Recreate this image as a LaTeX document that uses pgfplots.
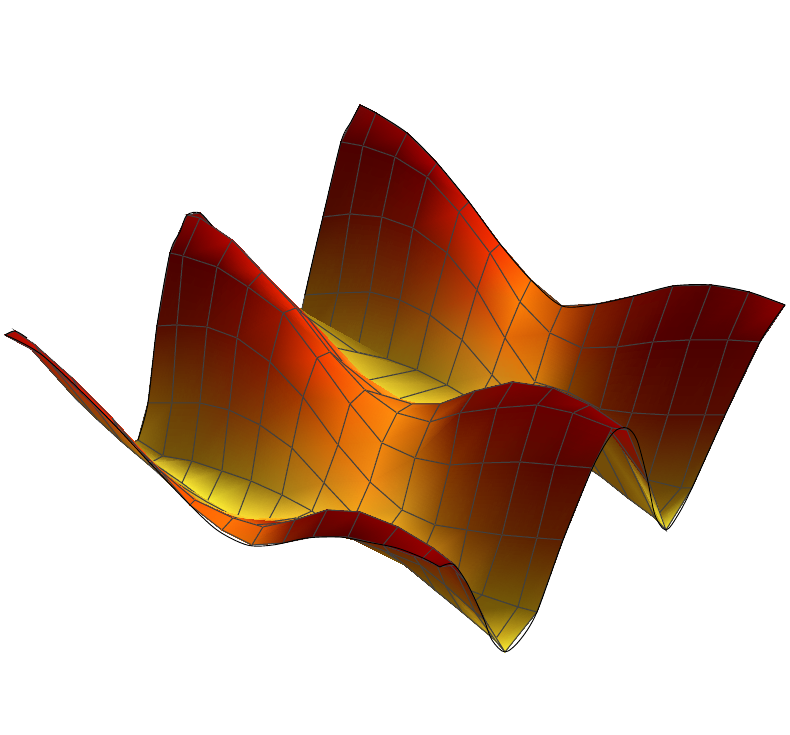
\documentclass[border=0pt]{standalone}
\usepackage{pgfplots}
\pgfplotsset{compat=1.18}
\pgfplotstableread{
x y z c
360 105 0 rgb=.45,.02,.02
376 113 1 rgb=.5,0,0
407 133 2 rgb=.55,0,0
437 163 3 rgb=.68,0,0
469 202 4 rgb=.85,.08,0
500 244 5 rgb=1,.2,0
531 280 6 rgb=1,.45,.02
562 306 7 rgb=.75,.3,.01
597 304 8 rgb=.5,.12,0
634 296 9 rgb=.42,.04,0
673 286 10 rgb=.38,.01,0
711 285 11 rgb=.33,0,0
749 292 12 rgb=.4,0,0
785 305 13 rgb=.55,0,0
341 142 1 rgb=.3,0,0
363 146 2 rgb=.3,0,0
395 157 3 rgb=.32,0,0
427 177 4 rgb=.4,0,0
459 212 5 rgb=.75,.08,0
490 253 6 rgb=.95,.2,0
520 302 7 rgb=1,.5,.03
550 333 8 rgb=.8,.35,.02
582 348 9 rgb=.5,.15,0
617 347 10 rgb=.38,.06,0
653 342 11 rgb=.32,0,0
690 340 12 rgb=.3,0,0
728 340 13 rgb=.3,0,0
760 342 14 rgb=.33,0,0
323 217 2 rgb=.3,.05,0
350 214 3 rgb=.33,.05,0
382 217 4 rgb=.36,.05,0
413 228 5 rgb=.4,.05,0
447 253 6 rgb=.55,.12,0
477 290 7 rgb=.75,.22,.02
505 338 8 rgb=.9,.42,.03
535 382 9 rgb=.85,.5,.05
568 392 10 rgb=.5,.25,0
600 409 11 rgb=.4,.13,0
632 413 12 rgb=.36,.08,0
668 415 13 rgb=.33,.05,0
705 415 14 rgb=.33,.05,0
725 415 15 rgb=.33,.05,0
305 295 3 rgb=.4,.25,.02
338 293 4 rgb=.4,.22,.02
370 292 5 rgb=.42,.2,.02
400 300 6 rgb=.45,.2,.02
430 315 7 rgb=.55,.27,.03
462 340 8 rgb=.7,.4,.06
492 375 9 rgb=.8,.52,.1
520 405 10 rgb=.85,.6,.1
550 425 11 rgb=.6,.4,.05
585 445 12 rgb=.5,.3,.03
612 465 13 rgb=.42,.25,.02
648 480 14 rgb=.4,.25,.03
681 488 15 rgb=.4,.27,.03
692 488 16 rgb=.42,.3,.03
293 350 4 rgb=.45,.32,.03
325 348 5 rgb=.5,.37,.05
357 352 6 rgb=.5,.38,.05
387 359 7 rgb=.5,.38,.05
417 370 8 rgb=.52,.4,.06
447 385 9 rgb=.62,.48,.08
477 403 10 rgb=.85,.65,.12
507 425 11 rgb=1,.75,.2
537 440 12 rgb=.85,.6,.1
570 455 13 rgb=.7,.5,.05
603 478 14 rgb=.45,.3,.03
628 498 15 rgb=.45,.3,.03
655 518 16 rgb=.55,.42,.05
666 530 17 rgb=1,.95,.2
250 268 5 rgb=.7,.55,.08
262 280 6 rgb=.7,.55,.08
290 305 7 rgb=.72,.57,.08
322 345 8 rgb=.95,.8,.15
355 383 9 rgb=1,.9,.2
388 402 10 rgb=1,.92,.2
420 412 11 rgb=1,.85,.18
450 412 12 rgb=1,.8,.15
480 405 13 rgb=1,.75,.15
515 395 14 rgb=1,.75,.15
550 400 15 rgb=.45,.28,.02
585 415 16 rgb=.45,.28,.02
618 440 17 rgb=.4,.2,.01
650 485 18 rgb=.38,.17,.01
200 213 6 rgb=.5,.02,0
212 226 7 rgb=.6,0,0
244 252 8 rgb=.7,.03,0
274 284 9 rgb=.85,.08,0
308 318 10 rgb=1,.15,0
345 365 11 rgb=1,.3,0
382 395 12 rgb=1,.5,.05
412 404 13 rgb=.9,.45,.05
440 404 14 rgb=.6,.2,0
475 391 15 rgb=.45,.05,0
513 382 16 rgb=.5,0,0
553 388 17 rgb=.45,0,0
590 405 18 rgb=.55,0,0
627 430 19 rgb=.6,0,0
187 215 7 rgb=.5,.02,0
200 218 8 rgb=.55,0,0
232 240 9 rgb=.7,.02,0
262 272 10 rgb=.85,.08,0
296 308 11 rgb=1,.17,0
330 352 12 rgb=1,.3,0
365 390 13 rgb=1,.45,.03
397 413 14 rgb=1,.55,.05
430 422 15 rgb=.75,.35,.02
460 413 16 rgb=.42,.06,0
497 408 17 rgb=.4,.02,0
537 405 18 rgb=.4,0,0
573 413 19 rgb=.4,0,0
612 428 20 rgb=.45,0,0
170 253 8 rgb=.3,0,0
183 256 9 rgb=.3,0,0
217 267 10 rgb=.33,0,0
248 287 11 rgb=.42,.02,0
283 313 12 rgb=.6,.08,0
317 358 13 rgb=.92,.22,0
350 404 14 rgb=.95,.4,.02
382 443 15 rgb=.95,.52,.05
415 458 16 rgb=.7,.38,.03
450 465 17 rgb=.5,.2,0
483 463 18 rgb=.4,.1,0
520 462 19 rgb=.35,.05,0
555 465 20 rgb=.33,.02,0
592 468 21 rgb=.33,.03,0
157 326 9 rgb=.33,.05,0
177 325 10 rgb=.33,.05,0
207 327 11 rgb=.36,.05,0
237 338 12 rgb=.42,.06,0
270 362 13 rgb=.5,.1,0
303 397 14 rgb=.65,.22,0
338 445 15 rgb=.85,.42,.03
370 482 16 rgb=.95,.55,.08
402 510 17 rgb=.8,.55,.1
435 525 18 rgb=.55,.33,.03
467 530 19 rgb=.45,.22,.01
502 535 20 rgb=.38,.16,.01
537 538 21 rgb=.36,.13,0
563 540 22 rgb=.36,.12,0
148 403 10 rgb=.45,.28,.02
172 403 11 rgb=.42,.25,.02
200 403 12 rgb=.42,.22,.02
229 410 13 rgb=.45,.2,.02
260 425 14 rgb=.52,.25,.02
292 448 15 rgb=.65,.38,.04
324 483 16 rgb=.78,.5,.08
355 516 17 rgb=.95,.65,.1
385 533 18 rgb=1,.72,.12
420 560 19 rgb=.85,.6,.1
455 585 20 rgb=.6,.42,.05
482 595 21 rgb=.45,.33,.03
518 607 22 rgb=.45,.35,.03
537 612 23 rgb=.48,.37,.04
138 440 11 rgb=.55,.42,.06
163 456 12 rgb=.45,.33,.04
192 461 13 rgb=.45,.33,.04
222 471 14 rgb=.5,.38,.05
251 481 15 rgb=.55,.42,.06
282 495 16 rgb=.65,.5,.09
312 511 17 rgb=.9,.7,.15
340 533 18 rgb=1,.8,.15
375 545 19 rgb=.5,.38,.05
405 565 20 rgb=.48,.36,.04
435 590 21 rgb=.45,.33,.03
462 612 22 rgb=.48,.36,.04
495 640 23 rgb=.85,.72,.12
505 652 24 rgb=1,.95,.2
128 445 12 rgb=.8,.65,.1
150 463 13 rgb=.95,.85,.2
182 483 14 rgb=1,.92,.2
207 502 15 rgb=1,.95,.2
237 518 16 rgb=1,.9,.2
267 523 17 rgb=1,.85,.2
297 518 18 rgb=1,.75,.1
325 525 19 rgb=.45,.25,.02
355 540 20 rgb=.42,.2,.01
390 553 21 rgb=.4,.18,.01
420 565 22 rgb=.4,.2,.01
445 585 23 rgb=.42,.24,.02
475 612 24 rgb=.45,.27,.02
485 620 25 rgb=.42,.22,.02
75 398 13 rgb=.45,.3,.03
98 420 14 rgb=.5,.32,.03
122 442 15 rgb=.5,.33,.03
155 470 16 rgb=.7,.5,.06
190 503 17 rgb=.95,.7,.1
222 520 18 rgb=1,.7,.1
250 525 19 rgb=.7,.1,0
285 523 20 rgb=.6,.03,0
320 515 21 rgb=.6,0,0
355 515 22 rgb=.55,0,0
395 530 23 rgb=.5,0,0
430 548 24 rgb=.45,.08,0
455 570 25 rgb=.4,.1,0
467 583 26 rgb=.4,.08,0
15 331 14 rgb=.7,.02,0
35 345 15 rgb=.8,.05,0
72 378 16 rgb=.85,.08,0
112 418 17 rgb=.95,.12,0
150 462 18 rgb=1,.25,0
195 500 19 rgb=1,.35,0
233 518 20 rgb=1,.45,.03
263 527 21 rgb=.9,.35,.02
295 520 22 rgb=.5,.05,0
327 510 23 rgb=.45,0,0
360 512 24 rgb=.5,0,0
398 527 25 rgb=.55,0,0
433 548 26 rgb=.6,0,0
455 565 27 rgb=.5,0,0
5 335 15 rgb=.6,.05,0
42 355 16 rgb=.75,.05,0
80 392 17 rgb=.9,.1,0
118 428 18 rgb=1,.2,0
155 465 19 rgb=1,.3,0
190 505 20 rgb=1,.38,0
222 530 21 rgb=1,.45,.02
252 545 22 rgb=.85,.4,.02
283 543 23 rgb=.5,.12,0
313 537 24 rgb=.35,.02,0
348 537 25 rgb=.3,0,0
383 545 26 rgb=.42,0,0
422 559 27 rgb=.55,0,0
440 567 28 rgb=.4,0,0
}\surfacedata
\begin{document}
\begin{tikzpicture}
\path[use as bounding box] (0,0) rectangle (790pt,734pt);
\begin{axis}[
    at={(0,0)},
    anchor=south west,
    width=790pt,
    height=734pt,
    scale only axis,
    axis lines=none,
    view={0}{90},
    xmin=0, xmax=790,
    ymin=0, ymax=734,
    y dir=reverse,
    clip=false,
]
\addplot3[
    surf,
    shader=faceted interp,
    faceted color={black!75},
    line width=1pt,
    z buffer=sort,
    mesh/rows=16,
    mesh/cols=14,
    mesh/ordering=x varies,
    mesh/color input=explicit,
    point meta=explicit symbolic,
] table[x=x,y=y,z=z,meta=c] {\surfacedata};
% dark outline along the open edges
\addplot3[black, line width=0.9pt, smooth] coordinates {
    (305,295,30) (314,255,30) (323,217,30) (341,142,30) (351,122,30) (360,105,30)
};
\addplot3[black, line width=0.9pt, smooth] coordinates {
    (360,105,30) (376,113,30) (407,133,30) (437,163,30) (469,202,30) (500,244,30)
    (531,280,30) (562,306,30) (597,304,30) (634,296,30) (673,286,30) (711,285,30)
    (749,292,30) (785,305,30)
};
\addplot3[black, line width=0.9pt, smooth] coordinates {
    (785,305,30) (760,342,30) (725,415,30) (692,488,30) (678,515,30) (666,530,30)
    (655,515,30) (647,477,30) (637,440,30) (627,428,30) (613,433,30) (593,467,30)
    (563,540,30) (537,612,30) (520,640,30) (505,652,30) (492,640,30) (483,617,30)
    (467,583,30) (453,564,30) (440,567,30)
};
\addplot3[black, line width=0.9pt, smooth] coordinates {
    (138,440,30) (148,403,30) (157,326,30) (170,253,30) (180,232,30) (187,215,30)
    (200,213,30) (212,226,30)
};
\addplot3[black, line width=0.9pt, smooth] coordinates {
    (5,335,30) (42,355,30) (100,410,30) (150,463,30) (187,502,30) (217,530,30)
    (247,545,30) (273,545,30) (307,538,30) (340,537,30) (367,542,30) (397,548,30)
    (423,558,30) (440,567,30)
};
\addplot3[black, line width=0.9pt, smooth] coordinates {
    (5,335,30) (15,331,30) (27,338,30)
};
\end{axis}
\end{tikzpicture}
\end{document}
